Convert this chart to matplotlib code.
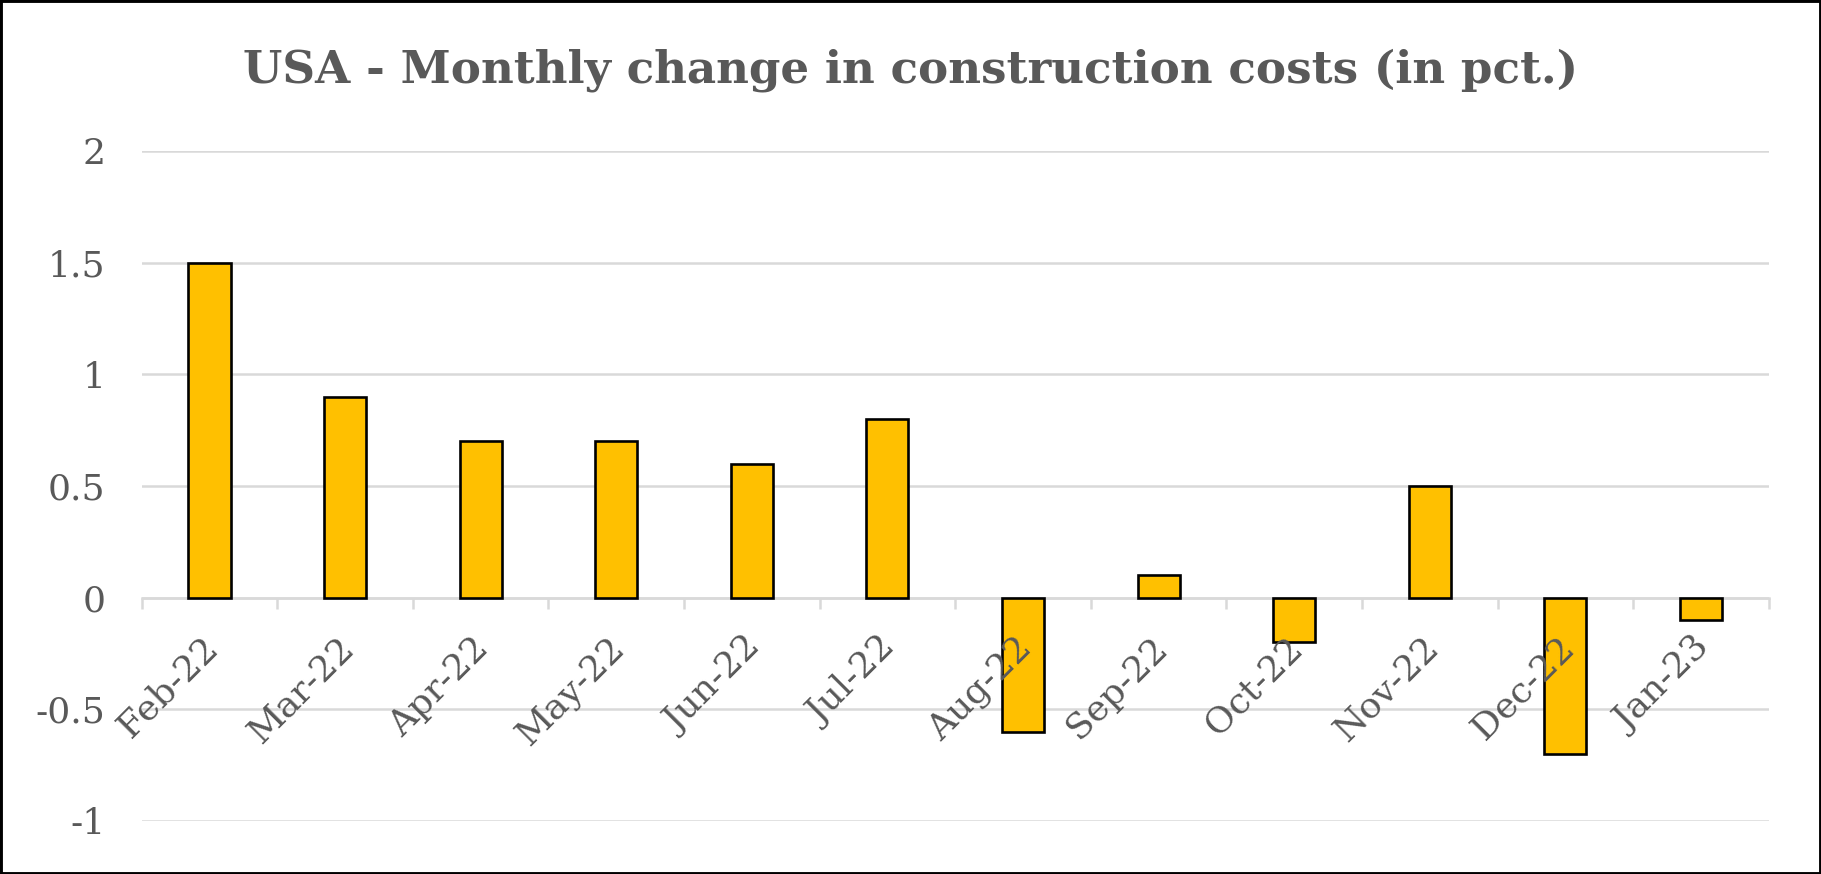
import matplotlib
matplotlib.use("Agg")
import matplotlib.pyplot as plt
from matplotlib.patches import Rectangle
import numpy as np

categories = ["Feb-22", "Mar-22", "Apr-22", "May-22", "Jun-22", "Jul-22",
              "Aug-22", "Sep-22", "Oct-22", "Nov-22", "Dec-22", "Jan-23"]
values = [1.5, 0.9, 0.7, 0.7, 0.6, 0.8, -0.6, 0.1, -0.2, 0.5, -0.7, -0.1]
yticks = [-1, -0.5, 0, 0.5, 1, 1.5, 2]
ytick_labels = ["-1", "-0.5", "0", "0.5", "1", "1.5", "2"]
title = "USA - Monthly change in construction costs (in pct.)"

TXT = "#595959"
GRID = "#d9d9d9"
BAR = "#FFC000"
FONT = ["DejaVu Serif"]

fig = plt.figure(figsize=(18.21, 8.74), dpi=100)
ax = fig.add_axes([141.7/1821, 53/874, (1768.8-141.7)/1821, (821-151)/874])

x = np.arange(len(categories))
ax.bar(x, values, width=0.31, color=BAR, edgecolor="black", linewidth=1.9, zorder=3)

ax.set_xlim(-0.5, len(categories) - 0.5)
ax.set_ylim(-1, 2)
ax.set_yticks(yticks)
ax.set_yticklabels(ytick_labels, fontsize=26, color=TXT, family=FONT)
ax.tick_params(axis="y", length=0, pad=26)
ax.grid(axis="y", color=GRID, linewidth=1.8, zorder=0)
ax.set_axisbelow(True)

for s in ["top", "right", "left"]:
    ax.spines[s].set_visible(False)
ax.spines["bottom"].set_position(("data", 0))
ax.spines["bottom"].set_color(GRID)
ax.spines["bottom"].set_linewidth(1.8)
ax.spines["bottom"].set_zorder(2)

ax.set_xticks(np.arange(-0.5, len(categories), 1.0), minor=True)
ax.tick_params(axis="x", which="minor", length=8, width=1.8, color=GRID, direction="out")
ax.set_xticks(x)
ax.set_xticklabels([])
ax.tick_params(axis="x", which="major", length=0)

for xi, lab in zip(x, categories):
    ax.annotate(lab, xy=(xi, 0), xycoords="data", xytext=(3, -45), textcoords="offset pixels",
                rotation=45, rotation_mode="anchor", ha="right", va="center",
                fontsize=26, color=TXT, family=FONT, zorder=4)

fig.text(0.5, 1 - 82.7/874, title, ha="center", va="baseline", fontsize=32.6,
         fontweight="bold", color=TXT, family=FONT)

fig.patches.append(Rectangle((0, 0), 1, 1, transform=fig.transFigure, fill=False,
                             edgecolor="black", linewidth=3.5, zorder=10))

fig.savefig("out.png", dpi=100)
